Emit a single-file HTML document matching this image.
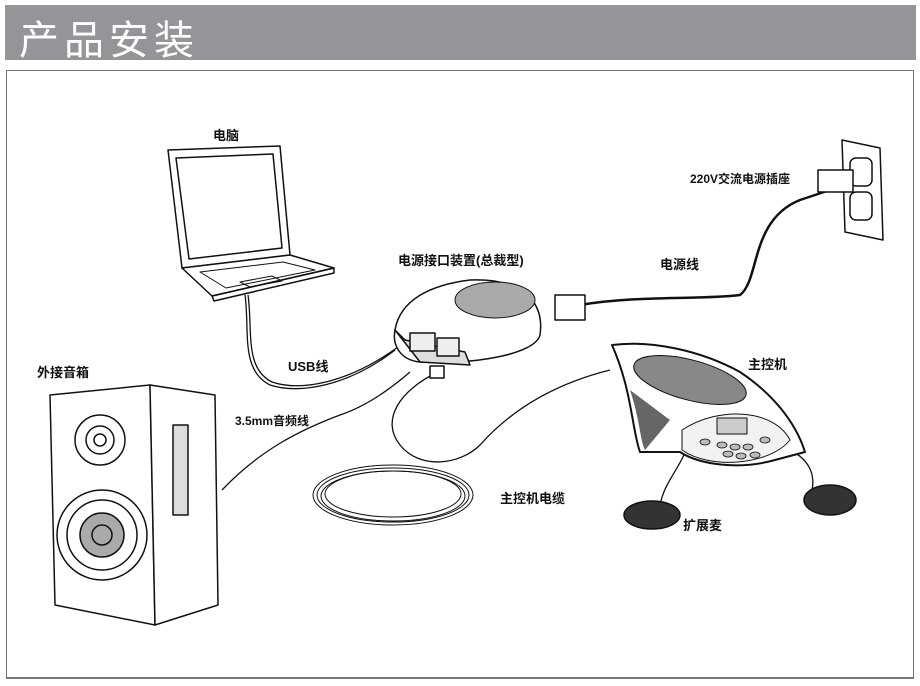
<!DOCTYPE html>
<html><head><meta charset="utf-8"><style>
html,body{margin:0;padding:0;background:#fff;width:920px;height:686px;overflow:hidden;position:relative;font-family:"Liberation Sans","Noto Sans CJK SC",sans-serif}
.hdr{position:absolute;left:5px;top:5px;width:911px;height:55px;background:#939598}
.hdr span{position:absolute;left:14px;top:3px;color:#fff;font-size:40px;letter-spacing:5px;font-weight:normal}
.box{position:absolute;left:6px;top:70px;width:906px;height:606px;border:1px solid #777;border-bottom:2px solid #777}
.l{position:absolute;font-size:13px;font-weight:bold;color:#111;white-space:nowrap}
svg{position:absolute;left:0;top:0}
</style></head><body>
<div class="hdr"><span>产品安装</span></div>
<div class="box"></div>
<svg width="920" height="686" fill="none" stroke="#111" stroke-width="1.5" stroke-linejoin="round">
<!-- laptop -->
<path d="M168 150 L280 146 L290 255 L182 268 Z" fill="#fff"/>
<path d="M176 158 L273 154 L282 248 L189 259 Z"/>
<path d="M182 268 L290 255 L334 268 L212 296 Z" fill="#fff"/>
<path d="M212 296 L334 268 L334 273 L214 301 Z"/>
<path d="M200 272 L283 262 L315 270 L226 288 Z" stroke-width="1"/>
<path d="M240 282 L272 276 L282 281 L250 287 Z" stroke-width="1"/>
<!-- usb cable -->
<path d="M245 295 C250 330 240 370 270 385 C300 395 350 385 395 350" stroke-width="1.3"/>
<path d="M248 295 C253 330 244 368 272 382 C302 392 350 382 398 347" stroke-width="1.3"/>
<!-- audio cable -->
<path d="M222 490 C260 450 300 430 340 415 C370 405 395 385 410 372" stroke-width="1.3"/>
<!-- hub -->
<path d="M395 330 C400 300 430 285 470 280 C520 278 545 300 540 335 C535 355 470 365 420 362 C400 360 392 345 395 330 Z" fill="#fff"/>
<path d="M395 330 L405 340 L465 352 L470 365 L420 362 Z" fill="#ddd"/>
<ellipse cx="495" cy="300" rx="40" ry="18" fill="#aaa" stroke-width="1"/>
<rect x="410" y="333" width="25" height="18" fill="#eee"/>
<rect x="437" y="338" width="22" height="18" fill="#eee"/>
<!-- power cord -->
<path d="M580 305 C640 295 700 300 740 295 C760 280 750 220 800 200 L830 190" stroke-width="2.5"/>
<rect x="555" y="295" width="30" height="25" fill="#fff"/>
<!-- outlet -->
<path d="M842 140 L880 148 L883 240 L845 232 Z" fill="#fff"/>
<rect x="850" y="158" width="22" height="28" rx="6" fill="#fff"/>
<rect x="850" y="192" width="22" height="28" rx="6" fill="#fff"/>
<rect x="818" y="170" width="35" height="22" fill="#fff"/>
<!-- phone cable -->
<path d="M438 372 C400 390 380 420 400 445 C420 470 460 465 480 445 C520 400 570 380 610 370" stroke-width="1.3"/>
<rect x="430" y="366" width="14" height="12" fill="#fff"/>
<!-- coil -->
<ellipse cx="393" cy="495" rx="80" ry="30" stroke-width="1"/>
<ellipse cx="393" cy="495" rx="76" ry="27" stroke-width="1"/>
<ellipse cx="393" cy="496" rx="72" ry="25" stroke-width="1"/>
<ellipse cx="393" cy="494" rx="68" ry="23" stroke-width="1"/>
<!-- phone -->
<path d="M690 440 C680 470 665 480 660 505" stroke-width="1.3"/>
<path d="M790 450 C810 460 815 475 812 490" stroke-width="1.3"/>
<path d="M612 345 C650 340 700 350 740 372 C770 392 795 420 805 452 L775 460 C740 470 700 465 680 452 L640 452 C632 430 632 390 612 345 Z" fill="#fff" stroke-width="2"/>
<ellipse cx="690" cy="380" rx="58" ry="20" transform="rotate(15 690 380)" fill="#888" stroke-width="1"/>
<path d="M630 390 C640 420 640 440 645 450 L670 420 Z" fill="#666" stroke="none"/>
<path d="M682 430 C720 405 775 410 790 440 C770 465 710 470 682 450 Z" fill="#f2f2f2" stroke-width="1"/>
<rect x="717" y="418" width="30" height="16" fill="#ccc" stroke-width="1"/>
<g fill="#bbb" stroke-width="0.8"><ellipse cx="722" cy="445" rx="5" ry="3"/><ellipse cx="735" cy="447" rx="5" ry="3"/><ellipse cx="748" cy="447" rx="5" ry="3"/><ellipse cx="728" cy="454" rx="5" ry="3"/><ellipse cx="741" cy="456" rx="5" ry="3"/><ellipse cx="755" cy="455" rx="5" ry="3"/><ellipse cx="705" cy="442" rx="5" ry="3"/><ellipse cx="765" cy="440" rx="5" ry="3"/></g>
<!-- mics -->
<ellipse cx="652" cy="515" rx="28" ry="14" fill="#333"/>
<ellipse cx="830" cy="500" rx="26" ry="15" fill="#333"/>
<!-- speaker -->
<path d="M50 395 L150 385 L155 625 L55 605 Z" fill="#fff"/>
<path d="M150 385 L215 395 L218 605 L155 625 Z" fill="#fff"/>
<circle cx="100" cy="440" r="25"/><circle cx="100" cy="440" r="14"/><circle cx="100" cy="440" r="6"/>
<circle cx="102" cy="535" r="45"/><circle cx="102" cy="535" r="35"/><circle cx="102" cy="535" r="22" fill="#aaa"/><circle cx="102" cy="535" r="10"/>
<rect x="173" y="425" width="15" height="90" fill="#ddd"/>
</svg>
<div class="l" style="left:213px;top:125px">电脑</div>
<div class="l" style="left:398px;top:250px">电源接口装置(总裁型)</div>
<div class="l" style="left:690px;top:170px;font-size:12px">220V交流电源插座</div>
<div class="l" style="left:660px;top:254px">电源线</div>
<div class="l" style="left:37px;top:362px">外接音箱</div>
<div class="l" style="left:288px;top:356px">USB线</div>
<div class="l" style="left:235px;top:412px;font-size:12px">3.5mm音频线</div>
<div class="l" style="left:748px;top:354px">主控机</div>
<div class="l" style="left:500px;top:488px">主控机电缆</div>
<div class="l" style="left:683px;top:515px">扩展麦</div>
</body></html>
